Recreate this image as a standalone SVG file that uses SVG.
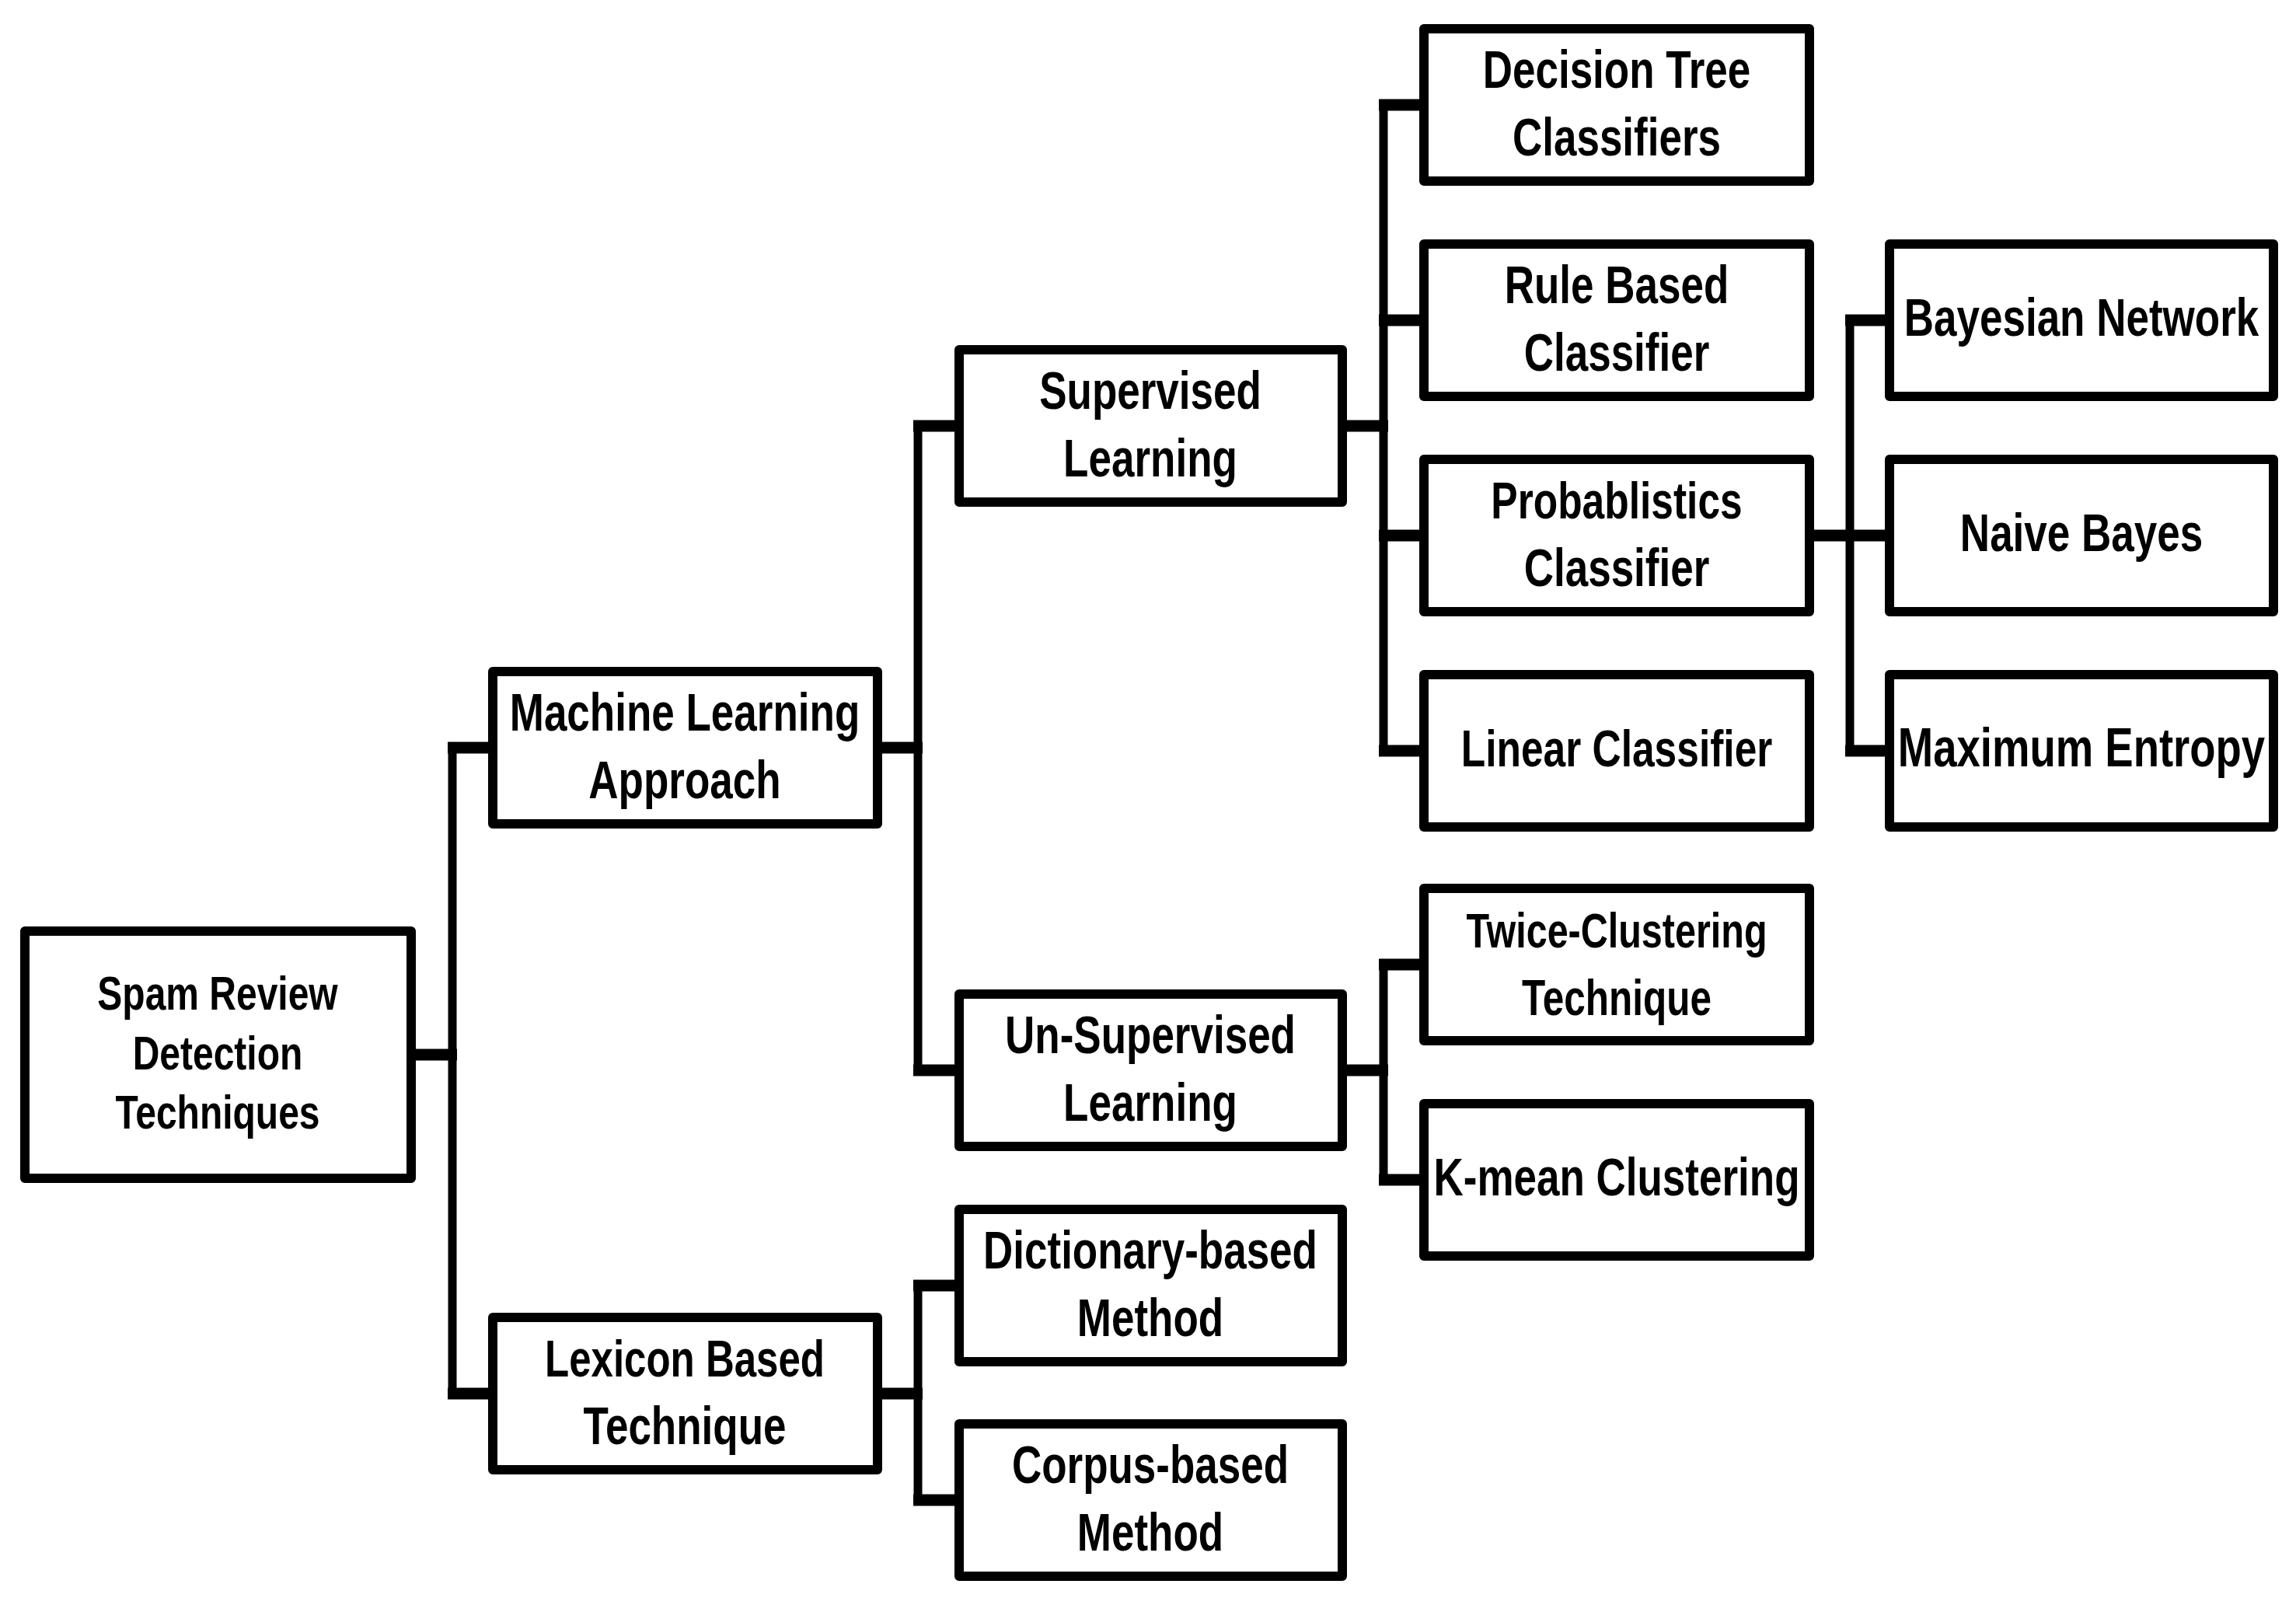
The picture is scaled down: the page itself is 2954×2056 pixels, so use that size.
<svg xmlns="http://www.w3.org/2000/svg" width="2954" height="2056" viewBox="0 0 2954 2056">
<style>
.box{fill:#fff;stroke:#000;stroke-width:12;stroke-linejoin:round}
.lbl{font-family:"Liberation Sans",Arial,sans-serif;font-weight:bold;font-size:53px;fill:#000;text-anchor:middle}
.root{font-size:48px}
.sm{font-size:49.5px}
.h{stroke:#000;stroke-width:15;fill:none}
.v{stroke:#000;stroke-width:11;fill:none;stroke-linecap:round}
</style>
<rect width="2954" height="2056" fill="#fff"/>
<g id="connectors">
<line class="h" x1="530" y1="1357" x2="588" y2="1357"/>
<line class="v" x1="582" y1="962" x2="582" y2="1793"/>
<line class="h" x1="576" y1="962" x2="632" y2="962"/>
<line class="h" x1="576" y1="1793" x2="632" y2="1793"/>
<line class="h" x1="1130" y1="962" x2="1187" y2="962"/>
<line class="v" x1="1181" y1="548" x2="1181" y2="1377"/>
<line class="h" x1="1175" y1="548" x2="1232" y2="548"/>
<line class="h" x1="1175" y1="1377" x2="1232" y2="1377"/>
<line class="h" x1="1130" y1="1793" x2="1187" y2="1793"/>
<line class="v" x1="1181" y1="1654" x2="1181" y2="1930"/>
<line class="h" x1="1175" y1="1654" x2="1232" y2="1654"/>
<line class="h" x1="1175" y1="1930" x2="1232" y2="1930"/>
<line class="h" x1="1728" y1="548" x2="1786" y2="548"/>
<line class="v" x1="1780" y1="135" x2="1780" y2="966"/>
<line class="h" x1="1774" y1="135" x2="1830" y2="135"/>
<line class="h" x1="1774" y1="412" x2="1830" y2="412"/>
<line class="h" x1="1774" y1="689" x2="1830" y2="689"/>
<line class="h" x1="1774" y1="966" x2="1830" y2="966"/>
<line class="h" x1="1728" y1="1377" x2="1786" y2="1377"/>
<line class="v" x1="1780" y1="1241" x2="1780" y2="1518"/>
<line class="h" x1="1774" y1="1241" x2="1830" y2="1241"/>
<line class="h" x1="1774" y1="1518" x2="1830" y2="1518"/>
<line class="h" x1="2329" y1="689" x2="2429" y2="689"/>
<line class="v" x1="2380" y1="412" x2="2380" y2="966"/>
<line class="h" x1="2374" y1="412" x2="2429" y2="412"/>
<line class="h" x1="2374" y1="966" x2="2429" y2="966"/>
</g>
<g id="root">
<rect class="box" x="32" y="1198" width="497" height="318"/>
<text class="lbl root" transform="translate(280,1357) scale(1,1.29)"><tspan x="0" y="-45">Spam Review</tspan><tspan x="0" y="14.7">Detection</tspan><tspan x="0" y="73.6">Techniques</tspan></text>
</g>
<g id="ml">
<rect class="box" x="634" y="864" width="495" height="196"/>
<text class="lbl" transform="translate(881,962) scale(1,1.29)"><tspan x="0" y="-17">Machine Learning</tspan><tspan x="0" y="50.4">Approach</tspan></text>
</g>
<g id="lexicon">
<rect class="box" x="634" y="1695" width="495" height="196"/>
<text class="lbl" transform="translate(881,1793) scale(1,1.29)"><tspan x="0" y="-17" font-size="51">Lexicon Based</tspan><tspan x="0" y="50.4">Technique</tspan></text>
</g>
<g id="supervised">
<rect class="box" x="1234" y="450" width="493" height="196"/>
<text class="lbl" transform="translate(1480,548) scale(1,1.29)"><tspan x="0" y="-17">Supervised</tspan><tspan x="0" y="50.4">Learning</tspan></text>
</g>
<g id="unsupervised">
<rect class="box" x="1234" y="1279" width="493" height="196"/>
<text class="lbl" transform="translate(1480,1377) scale(1,1.29)"><tspan x="0" y="-17">Un-Supervised</tspan><tspan x="0" y="50.4">Learning</tspan></text>
</g>
<g id="dictionary">
<rect class="box" x="1234" y="1556" width="493" height="196"/>
<text class="lbl" transform="translate(1480,1654) scale(1,1.29)"><tspan x="0" y="-17">Dictionary-based</tspan><tspan x="0" y="50.4">Method</tspan></text>
</g>
<g id="corpus">
<rect class="box" x="1234" y="1832" width="493" height="196"/>
<text class="lbl" transform="translate(1480,1930) scale(1,1.29)"><tspan x="0" y="-17">Corpus-based</tspan><tspan x="0" y="50.4">Method</tspan></text>
</g>
<g id="decision">
<rect class="box" x="1832" y="37" width="496" height="196"/>
<text class="lbl" transform="translate(2080,135) scale(1,1.29)"><tspan x="0" y="-17">Decision Tree</tspan><tspan x="0" y="50.4">Classifiers</tspan></text>
</g>
<g id="rule">
<rect class="box" x="1832" y="314" width="496" height="196"/>
<text class="lbl" transform="translate(2080,412) scale(1,1.29)"><tspan x="0" y="-17">Rule Based</tspan><tspan x="0" y="50.4">Classifier</tspan></text>
</g>
<g id="probablistics">
<rect class="box" x="1832" y="591" width="496" height="196"/>
<text class="lbl" transform="translate(2080,689) scale(1,1.29)"><tspan x="0" y="-17" font-size="51.5">Probablistics</tspan><tspan x="0" y="50.4">Classifier</tspan></text>
</g>
<g id="linear">
<rect class="box" x="1832" y="868" width="496" height="196"/>
<text class="lbl" transform="translate(2080,966) scale(1,1.29)"><tspan x="0" y="15.5" font-size="51.5">Linear Classifier</tspan></text>
</g>
<g id="twice">
<rect class="box" x="1832" y="1143" width="496" height="196"/>
<text class="lbl sm" transform="translate(2080,1241) scale(1,1.29)"><tspan x="0" y="-17" font-size="48.5">Twice-Clustering</tspan><tspan x="0" y="50.4">Technique</tspan></text>
</g>
<g id="kmean">
<rect class="box" x="1832" y="1420" width="496" height="196"/>
<text class="lbl" transform="translate(2080,1518) scale(1,1.29)"><tspan x="0" y="15.5">K-mean Clustering</tspan></text>
</g>
<g id="bayesian">
<rect class="box" x="2431" y="314" width="494" height="196"/>
<text class="lbl" transform="translate(2678,412) scale(1,1.29)"><tspan x="0" y="15.5">Bayesian Network</tspan></text>
</g>
<g id="naive">
<rect class="box" x="2431" y="591" width="494" height="196"/>
<text class="lbl" transform="translate(2678,689) scale(1,1.29)"><tspan x="0" y="15.5">Naive Bayes</tspan></text>
</g>
<g id="maxent">
<rect class="box" x="2431" y="868" width="494" height="196"/>
<text class="lbl" transform="translate(2678,966) scale(1,1.29)"><tspan x="0" y="15.5" font-size="54.5">Maximum Entropy</tspan></text>
</g>
</svg>
